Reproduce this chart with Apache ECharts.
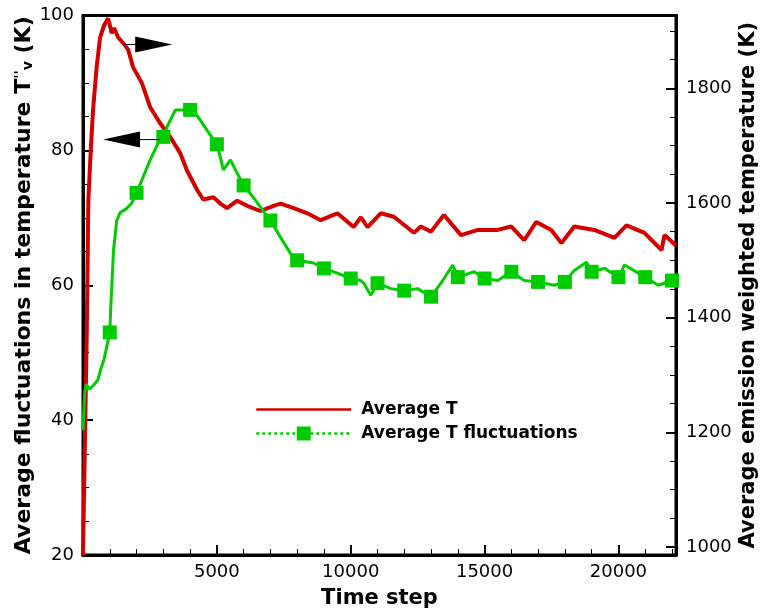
<!DOCTYPE html>
<html>
<head>
<meta charset="utf-8">
<script src="https://cdn.jsdelivr.net/npm/echarts@6.0.0/dist/echarts.min.js"></script>
<style>
  html, body { margin: 0; padding: 0; background: #fff; }
  #chart { width: 764px; height: 612px; }
</style>
</head>
<body>
<div id="chart"></div>
<script>
// Average T (right axis, K)
const timeRed = [0, 60, 140, 200, 290, 375, 510, 640, 790, 940, 1075, 1160, 1310, 1570, 1690, 1870,
  2200, 2510, 2880, 3260, 3630, 3880, 4260, 4490, 4870, 5130, 5380, 5760, 6130, 6630, 7120, 7380,
  7870, 8380, 8880, 9500, 10110, 10380, 10630, 11120, 11610, 12360, 12620, 13000, 13480, 14120,
  14750, 15490, 15990, 16480, 16930, 17490, 17870, 18350, 19100, 19850, 20300, 20970, 21610, 21720, 22150]
const avgT = [986, 1150, 1373, 1605, 1692, 1762, 1837, 1889, 1910, 1922, 1896, 1905, 1889, 1875, 1867, 1837,
  1809, 1767, 1739, 1715, 1687, 1657, 1623, 1606, 1610, 1599, 1591, 1604, 1595, 1586, 1595, 1599,
  1591, 1582, 1570, 1582, 1558, 1575, 1558, 1582, 1576, 1548, 1559, 1550, 1579, 1544,
  1553, 1553, 1559, 1535, 1567, 1553, 1530, 1559, 1553, 1539, 1561, 1548, 1518, 1544, 1526]

// Average T fluctuations (left axis, K); squares sit on the whole thousands
const timeGreen = [0, 60, 120, 250, 400, 550, 650, 780, 1000, 1050, 1140, 1260, 1390, 1640, 1820, 2000,
  2200, 2510, 2810, 3000, 3140, 3450, 3750, 4000, 4260, 4630, 5000, 5130, 5240, 5510, 5760, 6000,
  6370, 6630, 7000, 7380, 7750, 8000, 8610, 9000, 9500, 10000, 10370, 10490, 10750, 11000, 11500,
  12000, 12500, 13000, 13370, 13810, 14000, 14610, 15000, 15490, 16000, 16480, 17000, 17600, 18000,
  18350, 18800, 19000, 19480, 20000, 20230, 21000, 21490, 22000, 22150]
const avgTFluct = [38.5, 44.0, 45.3, 44.6, 45.2, 45.9, 47.4, 48.9, 53.0, 57.8, 65.2, 69.6, 70.8, 71.4, 72.2, 73.7,
  75.6, 78.6, 81.1, 82.0, 83.5, 86.0, 86.0, 86.0, 85.2, 83.0, 80.9, 79.0, 77.1, 78.6, 76.6, 74.8,
  73.0, 71.6, 69.6, 67.1, 64.7, 63.7, 63.3, 62.5, 61.8, 61.0, 60.7, 60.3, 58.5, 60.3, 59.5,
  59.2, 59.5, 58.3, 60.3, 63.0, 61.2, 62.0, 61.0, 60.7, 62.0, 60.7, 60.5, 60.0, 60.5,
  62.2, 63.4, 62.0, 62.5, 61.2, 63.0, 61.2, 60.0, 60.7, 60.8]

// the two arrows (left axis units)
const arrowRightLine = [[1500, 95.7], [2300, 95.7]]
const arrowRightHead = [[2640, 95.7]]
const arrowLeftLine = [[1500, 81.6], [2880, 81.6]]
const arrowLeftHead = [[1440, 81.6]]

const xMin = 0
const xMax = 22150
const leftMin = 20
const leftMax = 100
const rightMin = 986
const rightMax = 1927

const FONT = 'DejaVu Sans'
const RED = '#D40000'
const GREEN = '#00CC00'

const chart = echarts.init(document.getElementById('chart'))

const redData = timeRed.map((t, i) => [t, avgT[i]])
const greenData = timeGreen.map((t, i) => ({
  value: [t, avgTFluct[i]],
  symbol: t > 0 && t % 1000 === 0 ? 'rect' : 'none',
}))

const plain = (v) => String(v)
const labelStyle = { color: '#000', fontFamily: FONT, fontSize: 18, formatter: plain }
const titleStyle = { color: '#000', fontFamily: FONT, fontSize: 21, fontWeight: 'bold' }

chart.setOption({
  animation: false,
  grid: {
    left: 83,
    right: 88,
    top: 15.5,
    bottom: 57,
    outerBoundsMode: 'none',
    show: true,
    borderColor: '#000',
    borderWidth: 3,
  },
  legend: {
    left: 250,
    top: 396,
    orient: 'vertical',
    itemWidth: 95,
    itemHeight: 17.5,
    itemGap: 7,
    textStyle: { color: '#000', fontFamily: FONT, fontSize: 17, fontWeight: 'bold', padding: [0, 0, 0, 5] },
    data: [
      { name: 'Average T', lineStyle: { width: 2.5 }, itemStyle: { opacity: 0 } },
      { name: 'Average T fluctuations', lineStyle: { width: 2.5, type: [3, 3] } },
    ],
  },
  xAxis: [
    {
      type: 'value',
      position: 'bottom',
      min: xMin,
      max: xMax,
      interval: 5000,
      axisLine: { lineStyle: { color: '#000', width: 3 } },
      axisTick: { inside: true, length: 10, lineStyle: { color: '#000', width: 2 } },
      axisLabel: { ...labelStyle, margin: 8, showMinLabel: false, showMaxLabel: false },
      splitLine: { show: false },
      name: 'Time step',
      nameLocation: 'middle',
      nameGap: 33,
      nameMoveOverlap: false,
      nameTextStyle: titleStyle,
    },
    {
      type: 'value',
      position: 'bottom',
      min: xMin,
      max: xMax,
      interval: 1000,
      axisLine: { show: false },
      axisTick: { inside: true, length: 6, lineStyle: { color: '#000', width: 1 } },
      axisLabel: { show: false },
      splitLine: { show: false },
    },
  ],
  yAxis: [
    {
      type: 'value',
      position: 'left',
      min: leftMin,
      max: leftMax,
      interval: 20,
      axisLine: { lineStyle: { color: '#000', width: 3 } },
      axisTick: { inside: true, length: 10, lineStyle: { color: '#000', width: 2 } },
      axisLabel: { ...labelStyle, margin: 9 },
      splitLine: { show: false },
      name: "Average fluctuations in temperature T{sup|''}{sub|v} (K)",
      nameLocation: 'middle',
      nameGap: 48,
      nameMoveOverlap: false,
      nameTextStyle: {
        ...titleStyle,
        fontSize: 22,
        rich: {
          sup: { fontSize: 14, fontWeight: 'bold', fontFamily: FONT, color: '#000', verticalAlign: 'top', padding: [0, 0, 8, 0] },
          sub: { fontSize: 14, fontWeight: 'bold', fontFamily: FONT, color: '#000', verticalAlign: 'bottom', padding: [8, 0, 0, 0] },
        },
      },
    },
    {
      type: 'value',
      position: 'left',
      min: leftMin,
      max: leftMax,
      interval: 5,
      axisLine: { show: false },
      axisTick: { inside: true, length: 6, lineStyle: { color: '#000', width: 1 } },
      axisLabel: { show: false },
      splitLine: { show: false },
    },
    {
      type: 'value',
      position: 'right',
      min: rightMin,
      max: rightMax,
      splitNumber: 5,
      minInterval: 200,
      maxInterval: 200,
      axisLine: { lineStyle: { color: '#000', width: 3 } },
      axisTick: { inside: true, length: 10, lineStyle: { color: '#000', width: 2 } },
      axisLabel: { ...labelStyle, margin: 10, showMinLabel: false, showMaxLabel: false },
      splitLine: { show: false },
      name: 'Average emission weighted temperature (K)',
      nameLocation: 'middle',
      nameGap: 62,
      nameMoveOverlap: false,
      nameTextStyle: titleStyle,
    },
    {
      type: 'value',
      position: 'right',
      min: rightMin,
      max: rightMax,
      splitNumber: 19,
      minInterval: 50,
      maxInterval: 50,
      axisLine: { show: false },
      axisTick: { inside: true, length: 6, lineStyle: { color: '#000', width: 1 } },
      axisLabel: { show: false },
      splitLine: { show: false },
    },
  ],
  series: [
    {
      name: 'Average T',
      type: 'line',
      xAxisIndex: 0,
      yAxisIndex: 2,
      data: redData,
      symbol: 'none',
      showSymbol: false,
      lineStyle: { color: RED, width: 4 },
      itemStyle: { color: RED },
      z: 2,
    },
    {
      name: 'Average T fluctuations',
      type: 'line',
      xAxisIndex: 0,
      yAxisIndex: 0,
      data: greenData,
      symbol: 'rect',
      symbolSize: 14,
      showAllSymbol: true,
      lineStyle: { color: GREEN, width: 3 },
      itemStyle: { color: GREEN },
      z: 3,
    },
    {
      type: 'line',
      xAxisIndex: 0,
      yAxisIndex: 0,
      data: arrowRightLine,
      symbol: 'none',
      silent: true,
      lineStyle: { color: '#000', width: 1 },
      z: 4,
    },
    {
      type: 'scatter',
      xAxisIndex: 0,
      yAxisIndex: 0,
      data: arrowRightHead,
      symbol: 'triangle',
      symbolSize: [16, 37],
      symbolRotate: -90,
      silent: true,
      itemStyle: { color: '#000', opacity: 1 },
      z: 4,
    },
    {
      type: 'line',
      xAxisIndex: 0,
      yAxisIndex: 0,
      data: arrowLeftLine,
      symbol: 'none',
      silent: true,
      lineStyle: { color: '#000', width: 1 },
      z: 4,
    },
    {
      type: 'scatter',
      xAxisIndex: 0,
      yAxisIndex: 0,
      data: arrowLeftHead,
      symbol: 'triangle',
      symbolSize: [16, 37],
      symbolRotate: 90,
      silent: true,
      itemStyle: { color: '#000', opacity: 1 },
      z: 4,
    },
  ],
})
</script>
</body>
</html>
